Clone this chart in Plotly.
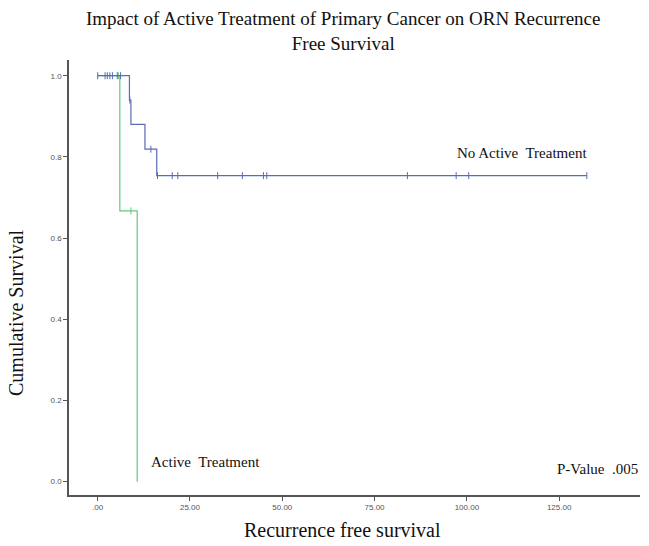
import plotly.graph_objects as go

# ---- data ----
no_active_times = [0, 8.6, 9.0, 12.8, 16.0, 132.5]
no_active_surv = [1.0, 0.94, 0.88, 0.819, 0.754, 0.754]
no_active_cens_t = [0, 2.0, 2.6, 3.3, 4.0, 5.3, 6.2, 8.7, 14.4,
                    16.2, 20.2, 21.7, 32.5, 39.2, 44.9, 45.8, 83.9, 97.1, 100.5, 132.5]
no_active_cens_s = [1.0, 1.0, 1.0, 1.0, 1.0, 1.0, 1.0, 0.94, 0.819,
                    0.754, 0.754, 0.754, 0.754, 0.754, 0.754, 0.754, 0.754, 0.754, 0.754, 0.754]

active_times = [0, 6.0, 10.7]
active_surv = [1.0, 0.667, 0.0]
active_cens_t = [5.6, 9.0]
active_cens_s = [1.0, 0.667]

x_tickvals = [0, 25, 50, 75, 100, 125]
x_ticktext = [".00", "25.00", "50.00", "75.00", "100.00", "125.00"]
y_tickvals = [0.0, 0.2, 0.4, 0.6, 0.8, 1.0]
y_ticktext = ["0.0", "0.2", "0.4", "0.6", "0.8", "1.0"]

BLUE = "#5a6cb3"
GREEN = "#62c97e"

fig = go.Figure()
fig.add_trace(go.Scatter(x=active_times, y=active_surv, mode="lines", line_shape="hv",
                         line=dict(color=GREEN, width=1.2), showlegend=False))
fig.add_trace(go.Scatter(x=active_cens_t, y=active_cens_s, mode="markers",
                         marker=dict(symbol="line-ns-open", size=5, color=GREEN,
                                     line=dict(color=GREEN, width=1)),
                         showlegend=False))
fig.add_trace(go.Scatter(x=no_active_times, y=no_active_surv, mode="lines", line_shape="hv",
                         line=dict(color=BLUE, width=1.2), showlegend=False))
fig.add_trace(go.Scatter(x=no_active_cens_t, y=no_active_cens_s, mode="markers",
                         marker=dict(symbol="line-ns-open", size=5, color=BLUE,
                                     line=dict(color=BLUE, width=1)),
                         showlegend=False))

serif = "Liberation Serif, Times New Roman, serif"
fig.update_layout(
    width=649, height=546,
    margin=dict(l=69, r=9, t=60, b=51),
    plot_bgcolor="white", paper_bgcolor="white",
    xaxis=dict(range=[-7.77, 146.9], showgrid=False, zeroline=False,
               showline=True, linecolor="#555555", linewidth=1.5,
               ticks="outside", ticklen=4, tickcolor="#555555",
               tickvals=x_tickvals, ticktext=x_ticktext,
               tickfont=dict(family="Liberation Sans, Arial", size=8, color="#555555")),
    yaxis=dict(range=[-0.0328, 1.0387], showgrid=False, zeroline=False,
               showline=True, linecolor="#555555", linewidth=1.5,
               ticks="outside", ticklen=4, tickcolor="#555555",
               tickvals=y_tickvals, ticktext=y_ticktext,
               tickfont=dict(family="Liberation Sans, Arial", size=8, color="#555555")),
    annotations=[
        dict(text="Impact of Active Treatment of Primary Cancer on ORN Recurrence<br>Free Survival",
             xref="paper", yref="paper", x=(343 - 69) / 571, y=1 + (60 - 6) / 435,
             xanchor="center", yanchor="top", showarrow=False,
             font=dict(family=serif, size=19, color="#111111")),
        dict(text="Cumulative Survival", xref="paper", yref="paper",
             x=-(69 - 16) / 571, y=(495 - 313) / 435, textangle=-90,
             xanchor="center", yanchor="middle", showarrow=False,
             font=dict(family=serif, size=20, color="#111111")),
        dict(text="Recurrence free survival", xref="paper", yref="paper",
             x=(342 - 69) / 571, y=-(530 - 495) / 435,
             xanchor="center", yanchor="middle", showarrow=False,
             font=dict(family=serif, size=20, color="#111111")),
        dict(text="No Active  Treatment", xref="paper", yref="paper",
             x=(589 - 69) / 571, y=(495 - 153) / 435,
             xanchor="right", yanchor="middle", showarrow=False,
             font=dict(family=serif, size=15, color="#111111")),
        dict(text="Active  Treatment", xref="paper", yref="paper",
             x=(149 - 69) / 571, y=(495 - 462) / 435,
             xanchor="left", yanchor="middle", showarrow=False,
             font=dict(family=serif, size=15, color="#111111")),
        dict(text="P-Value  .005", xref="paper", yref="paper",
             x=(640 - 69) / 571, y=(495 - 469) / 435,
             xanchor="right", yanchor="middle", showarrow=False,
             font=dict(family=serif, size=15, color="#111111")),
    ],
)

fig.write_html("out.html", config={"displayModeBar": False},
               post_script="document.body.style.margin='0';document.body.style.overflow='hidden';")
